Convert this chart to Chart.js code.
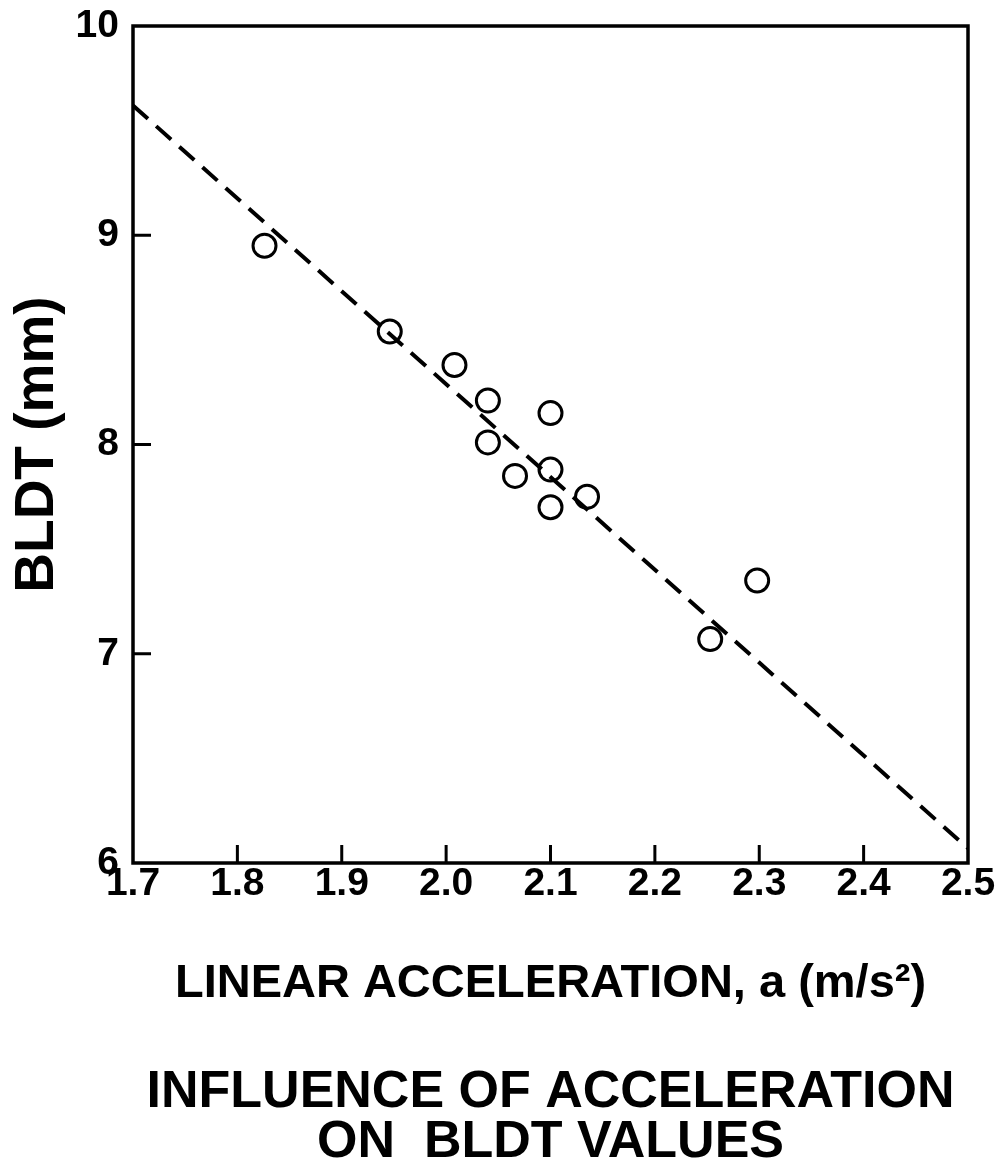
<!DOCTYPE html>
<html>
<head>
<meta charset="utf-8">
<script src="https://cdn.jsdelivr.net/npm/chart.js@4.4.1/dist/chart.umd.min.js"></script>
<style>
  html, body { margin: 0; background: #fff; }
  canvas { display: block; }
</style>
</head>
<body>
<canvas id="c" width="998" height="1170"></canvas>
<script>
const accel = [1.826, 1.946, 2.008, 2.04, 2.04, 2.066, 2.10, 2.10, 2.10, 2.135, 2.253, 2.298];
const bldt  = [8.95, 8.54, 8.38, 8.21, 8.01, 7.85, 8.15, 7.88, 7.70, 7.75, 7.07, 7.35];

// dashed regression line, end points
const fitX = [1.7, 2.5];
const fitY = [9.62, 6.07];

const xTicks = [1.7, 1.8, 1.9, 2.0, 2.1, 2.2, 2.3, 2.4, 2.5];
const yTicks = [6, 7, 8, 9, 10];

const FONT = "'Liberation Sans', Arial, Helvetica, sans-serif";

// box round the plot + short inward tick marks
const frame = {
  id: "frame",
  afterDatasetsDraw(chart) {
    const { ctx, chartArea: a, scales: { x, y } } = chart;
    ctx.save();
    ctx.strokeStyle = "#000";
    ctx.lineWidth = 3.5;
    ctx.strokeRect(a.left, a.top, a.right - a.left, a.bottom - a.top);
    ctx.lineWidth = 3;
    ctx.beginPath();
    x.ticks.forEach((t) => {
      if (t.value <= x.min || t.value >= x.max) return;
      const px = x.getPixelForValue(t.value);
      ctx.moveTo(px, a.bottom);
      ctx.lineTo(px, a.bottom - 18);
    });
    y.ticks.forEach((t) => {
      if (t.value <= y.min || t.value >= y.max) return;
      const py = y.getPixelForValue(t.value);
      ctx.moveTo(a.left, py);
      ctx.lineTo(a.left + 18, py);
    });
    ctx.stroke();
    ctx.restore();
  },
};

new Chart(document.getElementById("c"), {
  type: "scatter",
  data: {
    datasets: [
      {
        type: "line",
        data: fitX.map((v, i) => ({ x: v, y: fitY[i] })),
        borderColor: "#000",
        borderWidth: 4,
        borderDash: [20, 11],
        pointRadius: 0,
        fill: false,
      },
      {
        data: accel.map((v, i) => ({ x: v, y: bldt[i] })),
        pointStyle: "circle",
        pointRadius: 11.5,
        borderWidth: 3,
        borderColor: "#000",
        backgroundColor: "rgba(0,0,0,0)",
      },
    ],
  },
  options: {
    responsive: false,
    animation: false,
    events: [],
    layout: { padding: { left: 0, right: 30, top: 0, bottom: 2 } },
    plugins: {
      legend: { display: false },
      tooltip: { enabled: false },
      title: {
        display: true,
        position: "bottom",
        fullSize: false,
        text: ["INFLUENCE OF ACCELERATION", "ON  BLDT VALUES"],
        color: "#000",
        font: { family: FONT, size: 52, weight: "bold", lineHeight: "50px" },
        padding: { top: 0, bottom: 0 },
      },
    },
    scales: {
      x: {
        type: "linear",
        min: 1.7,
        max: 2.5,
        afterBuildTicks: (s) => { s.ticks = xTicks.map((v) => ({ value: v })); },
        afterFit: (s) => { s.height = 205; },
        grid: { display: false, drawTicks: false },
        border: { display: false },
        ticks: {
          color: "#000",
          padding: -2,
          font: { family: FONT, size: 39, weight: "bold" },
          callback: (v) => v.toFixed(1),
        },
        title: {
          display: true,
          text: "LINEAR ACCELERATION, a (m/s\u00B2)",
          color: "#000",
          font: { family: FONT, size: 47, weight: "bold" },
          padding: { top: 0, bottom: 56 },
        },
      },
      y: {
        type: "linear",
        min: 6,
        max: 10,
        afterBuildTicks: (s) => { s.ticks = yTicks.map((v) => ({ value: v })); },
        afterFit: (s) => { s.width = 133; },
        grid: { display: false, drawTicks: false },
        border: { display: false },
        ticks: {
          color: "#000",
          padding: 14,
          font: { family: FONT, size: 39, weight: "bold", lineHeight: "24px" },
        },
        title: {
          display: true,
          text: "BLDT (mm)",
          color: "#000",
          font: { family: FONT, size: 55, weight: "bold" },
          padding: { top: 5, bottom: 0 },
        },
      },
    },
  },
  plugins: [frame],
});
</script>
</body>
</html>
